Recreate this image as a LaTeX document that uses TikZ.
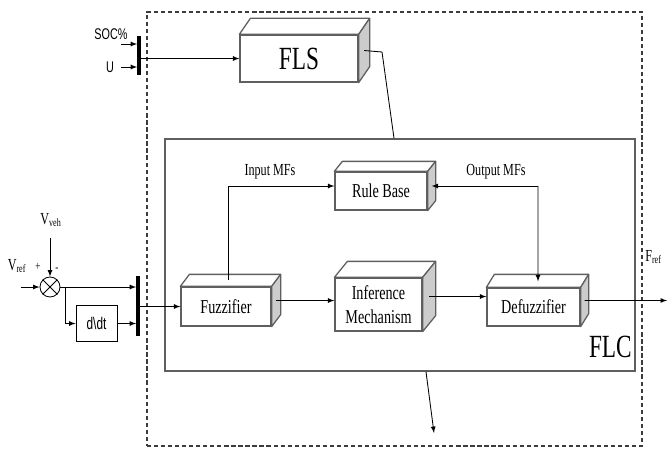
\documentclass[tikz,border=0pt]{standalone}
\usepackage{fontspec}
\setmainfont{Liberation Serif}[FakeStretch=0.72]
\newfontfamily\labelsans{Liberation Sans}[FakeStretch=0.7]
\usepackage{tikz}
\usepackage{xcolor}
\usetikzlibrary{shapes,arrows,positioning,fit,calc}

\definecolor{boxgray}{RGB}{95,95,95}
\definecolor{dashgray}{RGB}{60,60,60}

% top and side faces of a 3D block
\newcommand{\cubefaces}[3]{%
  \draw[cubeface] (#1.north west) -- ++(#2,#3) -- ($(#1.north east)+(#2,#3)$) -- (#1.north east) -- cycle;
  \draw[cubeface, fill=gray!40] (#1.north east) -- ++(#2,#3) -- ($(#1.south east)+(#2,#3)$) -- (#1.south east) -- cycle;
  \coordinate (#1-s) at ($(#1.east)+0.5*(#2,#3)$);
}

\begin{document}
\begin{tikzpicture}[x=0.025cm, y=-0.025cm, node distance=1cm]
    \tikzstyle{block} = [rectangle, draw=boxgray, line width=0.9pt, fill=white, align=center, inner sep=0pt, font=\fontsize{14}{16.8}\selectfont]
    \tikzstyle{cubeface} = [draw=boxgray, line width=0.9pt, fill=white, line join=round]
    \tikzstyle{arrow} = [->, >=latex, line width=0.6pt]
    \tikzstyle{wire} = [line width=0.6pt]
    \tikzstyle{muxbar} = [rectangle, fill=black, inner sep=0pt, minimum width=0.08cm]
    \tikzstyle{lbl} = [inner sep=0pt, font=\fontsize{12}{12}\selectfont]
    \tikzstyle{sanslbl} = [inner sep=0pt, font=\labelsans\fontsize{11}{11}\selectfont]

    \useasboundingbox (0,0) rectangle (668,448);

    % outer boundary and controller
    \node [draw=dashgray, line width=0.9pt, dash pattern=on 3pt off 2pt, minimum width=12.375cm, minimum height=10.85cm] (sys) at (394.5,229) {};
    \node [draw=boxgray, line width=1pt, minimum width=11.75cm, minimum height=5.8cm] (flc) at (400,255) {};
    \node [anchor=base east, inner sep=0pt, font=\fontsize{23}{23}\selectfont] (flcl) at (632,357) {FLC};

    % blocks
    \node [block, minimum width=2.95cm, minimum height=1.175cm, font=\fontsize{23}{23}\selectfont] (fls) at (299,58.5) {FLS};
    \cubefaces{fls}{11}{-16}
    \node [block, minimum width=2.3cm, minimum height=0.95cm] (rb) at (381,191) {Rule Base};
    \cubefaces{rb}{8}{-10}
    \node [block, minimum width=2.25cm, minimum height=0.975cm] (fuz) at (226,306.5) {Fuzzifier};
    \cubefaces{fuz}{9}{-12}
    \node [block, minimum width=2.175cm, minimum height=1.325cm] (inf) at (378.5,304.5) {Inference\\Mechanism};
    \cubefaces{inf}{13}{-16}
    \node [block, minimum width=2.325cm, minimum height=0.95cm] (def) at (533.5,307) {Defuzzifier};
    \cubefaces{def}{8}{-13}

    % speed error input
    \node [draw, circle, line width=0.6pt, minimum size=0.5cm, inner sep=0pt] (sum) at (50,287) {};
    \draw [wire] (sum.north west) -- (sum.south east) (sum.north east) -- (sum.south west);
    \node [lbl] (vveh) at (51,220) {V\textsubscript{veh}};
    \node [lbl] (vref) at (17,266) {V\textsubscript{ref}};
    \node [lbl, font=\fontsize{9}{9}\selectfont] (plus) at (38,267) {+};
    \node [lbl, font=\fontsize{9}{9}\selectfont] (minus) at (57,270) {-};
    \coordinate (vin) at (21,287);
    \coordinate (vvehin) at (50,238);
    \draw [arrow] (vvehin) -- (sum.north);
    \draw [arrow] (vin) -- (sum.west);
    \node [muxbar, minimum height=1.5cm] (mux) at (138,306) {};
    \node [rectangle, draw, line width=0.6pt, minimum width=1.025cm, minimum height=0.9cm, font=\labelsans\fontsize{12}{12}\selectfont] (ddt) at (96.5,323.5) {d\textbackslash dt};
    \coordinate (split) at (65,287);
    \draw [arrow] (sum.east) -- (mux.west |- sum.east);
    \draw [arrow] (split) |- (ddt.west);
    \draw [arrow] (ddt.east) -- (mux.west |- ddt.east);
    \draw [arrow] (mux.east |- fuz.west) -- (fuz.west);

    % FLS inputs
    \node [muxbar, minimum height=0.975cm] (mux2) at (139,55.5) {};
    \node [sanslbl] (soc) at (111,34) {SOC\%};
    \node [sanslbl] (u) at (110,67) {U};
    \coordinate (socin) at (121,44);
    \coordinate (uin) at (121,67);
    \draw [arrow] (socin) -- (mux2.west |- socin);
    \draw [arrow] (uin) -- (mux2.west |- uin);
    \draw [arrow] (mux2.east |- fls.west) -- (fls.west);
    \coordinate (bend) at (382,52);
    \draw [wire] (fls-s) -- (bend) -- ($(flc.north)+(-6,0)$);

    % inside the FLC
    \draw [arrow] (fuz-s) -- (inf.west |- fuz-s);
    \draw [arrow] (inf-s) -- (def.west |- inf-s);
    \draw [arrow] ($(fuz.north)+(2,-6)$) |- ($(rb.west)+(0,-5)$);
    \coordinate (omf) at (538,186);
    \draw [arrow] (omf) -- (rb-s);
    \draw [arrow] (omf) -- ($(def.north)+(4.5,-6)$);
    \node [lbl] (inmf) at (270,172) {Input MFs};
    \node [lbl] (outmf) at (496,172) {Output MFs};

    % outputs
    \coordinate (fout) at (667,300.5);
    \draw [arrow] (def-s) -- (fout);
    \node [lbl, anchor=west] (fref) at (645,257) {F\textsubscript{ref}};
    \coordinate (down) at (434,433);
    \draw [arrow] ($(flc.south)+(26,0)$) -- (down);
\end{tikzpicture}
\end{document}
